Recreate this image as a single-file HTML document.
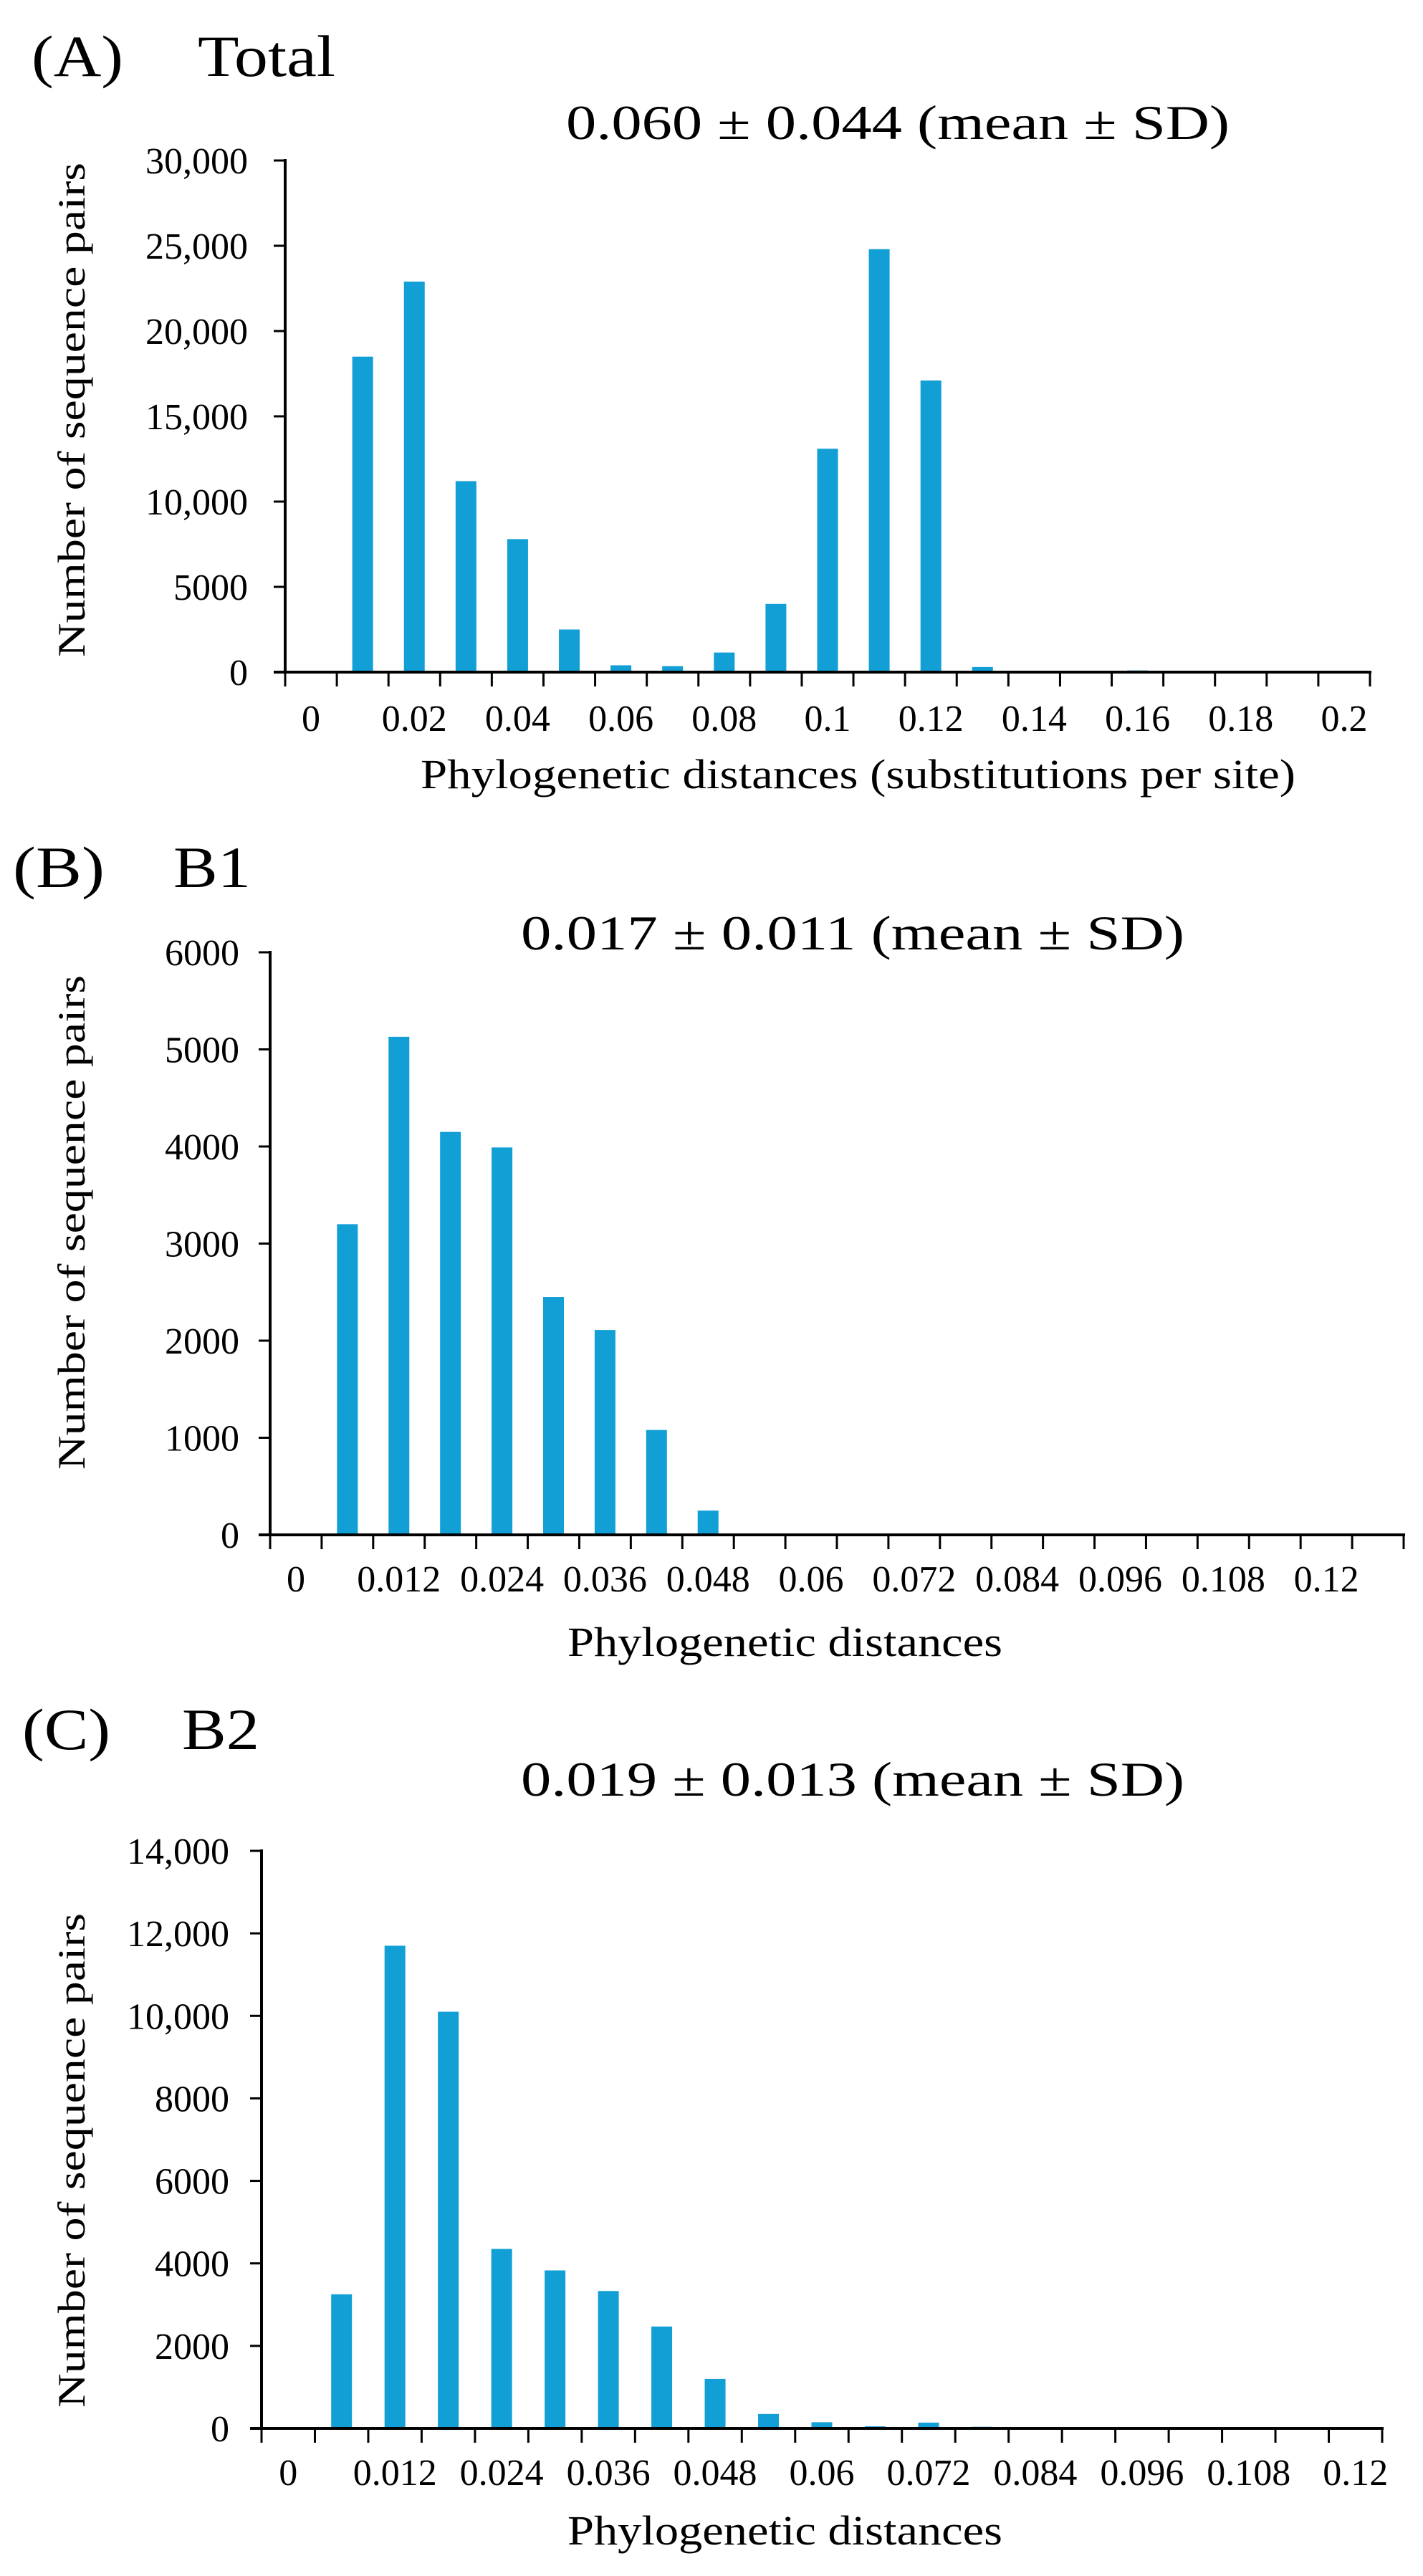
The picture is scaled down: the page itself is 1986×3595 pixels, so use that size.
<!DOCTYPE html>
<html><head><meta charset="utf-8">
<style>
html,body{margin:0;padding:0;background:#fff;}
svg{display:block;}
text{font-family:"Liberation Serif","Times New Roman",serif;fill:#000;}
</style></head>
<body>
<svg id="fig" width="1986" height="3595" viewBox="0 0 1986 3595" xmlns="http://www.w3.org/2000/svg"></svg>
<script>
// Panel A (Total)
const aValues = [0, 18500, 22900, 11200, 7800, 2500, 400, 350, 1150, 4000, 13100, 24800, 17100, 300, 0, 0, 100, 60, 0, 0, 0];
const aYTicks = [0, 5000, 10000, 15000, 20000, 25000, 30000];
const aYLabels = ["0", "5000", "10,000", "15,000", "20,000", "25,000", "30,000"];
const aXLabels = ["0", "0.02", "0.04", "0.06", "0.08", "0.1", "0.12", "0.14", "0.16", "0.18", "0.2"];
// Panel B (B1)
const bValues = [0, 3200, 5130, 4150, 3990, 2450, 2110, 1080, 250, 0, 0, 0, 0, 0, 0, 0, 0, 0, 0, 0, 0, 0];
const bYTicks = [0, 1000, 2000, 3000, 4000, 5000, 6000];
const bYLabels = ["0", "1000", "2000", "3000", "4000", "5000", "6000"];
const bXLabels = ["0", "0.012", "0.024", "0.036", "0.048", "0.06", "0.072", "0.084", "0.096", "0.108", "0.12"];
// Panel C (B2)
const cValues = [0, 3250, 11700, 10100, 4350, 3830, 3330, 2470, 1200, 350, 150, 50, 140, 40, 0, 0, 0, 0, 0, 0, 0];
const cYTicks = [0, 2000, 4000, 6000, 8000, 10000, 12000, 14000];
const cYLabels = ["0", "2000", "4000", "6000", "8000", "10,000", "12,000", "14,000"];
const cXLabels = ["0", "0.012", "0.024", "0.036", "0.048", "0.06", "0.072", "0.084", "0.096", "0.108", "0.12"];

const NS = "http://www.w3.org/2000/svg";
const svg = document.getElementById("fig");
function mk(tag, attrs, parent) {
  const e = document.createElementNS(NS, tag);
  for (const k in attrs) e.setAttribute(k, attrs[k]);
  (parent || svg).appendChild(e);
  return e;
}
function txt(str, attrs, parent) {
  const t = mk("text", attrs, parent);
  t.textContent = str;
  return t;
}

function panel(cfg) {
  const g = mk("g", {});
  
  
  const n = cfg.values.length;
  const bw = (cfg.x1 - cfg.x0) / n;
  const yMax = cfg.yTicks[cfg.yTicks.length - 1];
  const yS = v => cfg.y0 - (v / yMax) * (cfg.y0 - cfg.yTop);
  const xS = i => cfg.x0 + bw * (i + 0.5);

  const lt = txt(cfg.letter, {x: cfg.letterX, y: cfg.headY, "font-size": 82, textLength: cfg.letterW, lengthAdjust: "spacingAndGlyphs"}, g);
  
  
  const nm = txt(cfg.name, {x: cfg.nameX, y: cfg.headY, "font-size": 82, textLength: cfg.nameW, lengthAdjust: "spacingAndGlyphs"}, g);
  
  
  const st = txt(cfg.stat, {x: cfg.statX, y: cfg.statY, "font-size": 68, textLength: cfg.statW, lengthAdjust: "spacingAndGlyphs"}, g);
  
  

  cfg.values.forEach((v, i) => {
    if (v <= 0) return;
    const r = mk("rect", {x: xS(i) - 14.5, y: yS(v), width: 29, height: cfg.y0 - yS(v), fill: "#129fd6"}, g);
    
    
  });

  const ya = mk("line", {x1: cfg.x0, y1: cfg.yTop - 2, x2: cfg.x0, y2: cfg.y0 + 2, stroke: "#000", "stroke-width": 4}, g);
  
  
  const xa = mk("line", {x1: cfg.x0 - 16, y1: cfg.y0, x2: cfg.x1 + 2, y2: cfg.y0, stroke: "#000", "stroke-width": 4}, g);
  
  

  cfg.yTicks.forEach((v, i) => {
    const y = yS(v);
    const tk = mk("line", {x1: cfg.x0 - 16, y1: y, x2: cfg.x0, y2: y, stroke: "#000", "stroke-width": 3}, g);
    
    
    const tl = txt(cfg.yLabels[i], {x: cfg.yLabX, y: y + 18, "font-size": 52, "text-anchor": "end"}, g);
    
    
  });
  for (let i = 0; i <= n; i++) {
    const x = cfg.x0 + bw * i;
    const tk = mk("line", {x1: x, y1: cfg.y0, x2: x, y2: cfg.y0 + 20, stroke: "#000", "stroke-width": 3}, g);
    
    
  }
  cfg.xLabels.forEach((s, k) => {
    const tl = txt(s, {x: xS(k * 2), y: cfg.xLabY, "font-size": 52, "text-anchor": "middle"}, g);
    
    
  });

  const xt = txt(cfg.xTitle, {x: cfg.xTitleX, y: cfg.xTitleY, "font-size": 58, textLength: cfg.xTitleW, lengthAdjust: "spacingAndGlyphs"}, g);
  
  
  const yt = txt("Number of sequence pairs", {x: 0, y: 0, "font-size": 54, "text-anchor": "middle", textLength: cfg.yTitleW, lengthAdjust: "spacingAndGlyphs", transform: "translate(" + cfg.yTitleX + "," + cfg.yTitleY + ") rotate(-90)"}, g);
  
  
}

panel({id: "a", values: aValues, yTicks: aYTicks, yLabels: aYLabels, xLabels: aXLabels,
  x0: 398, x1: 1912, y0: 938, yTop: 224, yLabX: 346, xLabY: 1020,
  letter: "(A)", letterX: 44, letterW: 128, name: "Total", nameX: 276, nameW: 192, headY: 106,
  stat: "0.060 \u00b1 0.044 (mean \u00b1 SD)", statX: 790, statY: 194, statW: 926,
  xTitle: "Phylogenetic distances (substitutions per site)", xTitleX: 587, xTitleY: 1100, xTitleW: 1221,
  yTitleX: 118, yTitleY: 572, yTitleW: 690});

panel({id: "b", values: bValues, yTicks: bYTicks, yLabels: bYLabels, xLabels: bXLabels,
  x0: 377, x1: 1959, y0: 2142, yTop: 1329, yLabX: 334, xLabY: 2221,
  letter: "(B)", letterX: 18, letterW: 128, name: "B1", nameX: 242, nameW: 108, headY: 1238,
  stat: "0.017 \u00b1 0.011 (mean \u00b1 SD)", statX: 727, statY: 1325, statW: 926,
  xTitle: "Phylogenetic distances", xTitleX: 792, xTitleY: 2311, xTitleW: 607,
  yTitleX: 118, yTitleY: 1706, yTitleW: 690});

panel({id: "c", values: cValues, yTicks: cYTicks, yLabels: cYLabels, xLabels: cXLabels,
  x0: 365, x1: 1929, y0: 3389, yTop: 2583, yLabX: 320, xLabY: 3468,
  letter: "(C)", letterX: 31, letterW: 123, name: "B2", nameX: 254, nameW: 108, headY: 2441,
  stat: "0.019 \u00b1 0.013 (mean \u00b1 SD)", statX: 727, statY: 2506, statW: 926,
  xTitle: "Phylogenetic distances", xTitleX: 792, xTitleY: 3551, xTitleW: 607,
  yTitleX: 118, yTitleY: 3015, yTitleW: 690});
</script>
</body></html>
